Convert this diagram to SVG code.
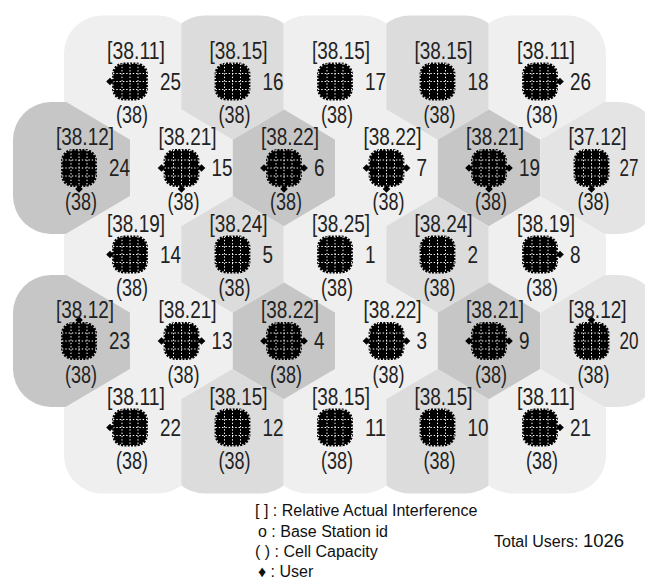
<svg xmlns="http://www.w3.org/2000/svg" width="645" height="580" viewBox="0 0 645 580">
<style>
.ri,.id,.cap{font-family:"Liberation Sans",Arial,sans-serif;font-size:23px;fill:#222}
.ri,.cap{text-anchor:middle}
.leg{font-family:"Liberation Sans",Arial,sans-serif;font-size:16px;fill:#111}
.dk{fill:#c6c6c6}.md{fill:#dcdcdc}.lt{fill:#efefef}.ml{fill:#e4e4e4}
</style>
<defs>
<rect id="cov" x="-66" y="-66" width="132" height="132" rx="38"/>
<clipPath id="kH"><polygon points="0,-58.5 51.25,-28.2 51.25,28.2 0,58.5 -51.25,28.2 -51.25,-28.2"/></clipPath>
<clipPath id="kT"><polygon points="-51.25,-100 51.25,-100 51.25,28.2 0,58.5 -51.25,28.2"/></clipPath>
<clipPath id="kTL"><polygon points="-100,-100 51.25,-100 51.25,28.2 0,58.5 -100,-0.6"/></clipPath>
<clipPath id="kTR"><polygon points="-51.25,-100 100,-100 100,-0.6 0,58.5 -51.25,28.2"/></clipPath>
<clipPath id="kB"><polygon points="-51.25,-28.2 0,-58.5 51.25,-28.2 51.25,100 -51.25,100"/></clipPath>
<clipPath id="kBL"><polygon points="-100,0.6 0,-58.5 51.25,-28.2 51.25,100 -100,100"/></clipPath>
<clipPath id="kBR"><polygon points="-51.25,-28.2 0,-58.5 100,0.6 100,100 -51.25,100"/></clipPath>
<clipPath id="kL3"><polygon points="-99,0 0,-58.5 51.25,-28.2 51.25,28.2 0,58.5"/></clipPath>
<clipPath id="kR3"><polygon points="99,0 0,58.5 -51.25,28.2 -51.25,-28.2 0,-58.5"/></clipPath>
<clipPath id="kL2"><polygon points="-100,-117.6 0,-58.5 51.25,-28.2 51.25,28.2 0,58.5 -100,117.6"/></clipPath>
<clipPath id="kR2"><polygon points="100,-117.6 100,117.6 0,58.5 -51.25,28.2 -51.25,-28.2 0,-58.5"/></clipPath>
<g id="blob">
<rect x="-16.5" y="-17.5" width="33" height="35" rx="10" fill="#000" stroke="#000" stroke-width="2.8" stroke-dasharray="2 1.3"/>
<path d="M-8,-18V18M0,-18V18M8,-18V18M-17,-8H17M-17,0H17M-17,8H17" fill="none" stroke="#fff" stroke-width="1" stroke-dasharray="1.4 1.9"/>
</g>
<polygon id="dia" points="0,-3.8 3.8,0 0,3.8 -3.8,0" fill="#000"/>
</defs>
<rect width="645" height="580" fill="#fff"/>
<g id="coverage">
<use href="#cov" class="lt" transform="translate(130,81.5)" clip-path="url(#kTL)"/>
<use href="#cov" class="md" transform="translate(232.5,81.5)" clip-path="url(#kT)"/>
<use href="#cov" class="lt" transform="translate(335,81.5)" clip-path="url(#kT)"/>
<use href="#cov" class="md" transform="translate(437.5,81.5)" clip-path="url(#kT)"/>
<use href="#cov" class="lt" transform="translate(540,81.5)" clip-path="url(#kTR)"/>
<use href="#cov" class="dk" transform="translate(79,168)" clip-path="url(#kL2)"/>
<use href="#cov" class="lt" transform="translate(181.5,168)" clip-path="url(#kH)"/>
<use href="#cov" class="dk" transform="translate(284,168)" clip-path="url(#kH)"/>
<use href="#cov" class="lt" transform="translate(386.5,168)" clip-path="url(#kH)"/>
<use href="#cov" class="dk" transform="translate(489,168)" clip-path="url(#kH)"/>
<use href="#cov" class="ml" transform="translate(591.5,168)" clip-path="url(#kR2)"/>
<use href="#cov" class="lt" transform="translate(130,254.5)" clip-path="url(#kL3)"/>
<use href="#cov" class="md" transform="translate(232.5,254.5)" clip-path="url(#kH)"/>
<use href="#cov" class="lt" transform="translate(335,254.5)" clip-path="url(#kH)"/>
<use href="#cov" class="md" transform="translate(437.5,254.5)" clip-path="url(#kH)"/>
<use href="#cov" class="lt" transform="translate(540,254.5)" clip-path="url(#kR3)"/>
<use href="#cov" class="dk" transform="translate(79,341)" clip-path="url(#kL2)"/>
<use href="#cov" class="lt" transform="translate(181.5,341)" clip-path="url(#kH)"/>
<use href="#cov" class="dk" transform="translate(284,341)" clip-path="url(#kH)"/>
<use href="#cov" class="lt" transform="translate(386.5,341)" clip-path="url(#kH)"/>
<use href="#cov" class="dk" transform="translate(489,341)" clip-path="url(#kH)"/>
<use href="#cov" class="ml" transform="translate(591.5,341)" clip-path="url(#kR2)"/>
<use href="#cov" class="lt" transform="translate(130,427.5)" clip-path="url(#kBL)"/>
<use href="#cov" class="md" transform="translate(232.5,427.5)" clip-path="url(#kB)"/>
<use href="#cov" class="lt" transform="translate(335,427.5)" clip-path="url(#kB)"/>
<use href="#cov" class="md" transform="translate(437.5,427.5)" clip-path="url(#kB)"/>
<use href="#cov" class="lt" transform="translate(540,427.5)" clip-path="url(#kBR)"/>
</g>

<g id="bs25" transform="translate(130,81.5)"><use href="#blob"/><use href="#dia" x="-20"/><text class="ri" x="6" y="-23" textLength="58" lengthAdjust="spacingAndGlyphs">[38.11]</text><text class="id" x="30" y="8" textLength="21" lengthAdjust="spacingAndGlyphs">25</text><text class="cap" x="2" y="41.5" textLength="32" lengthAdjust="spacingAndGlyphs">(38)</text></g>
<g id="bs16" transform="translate(232.5,81.5)"><use href="#blob"/><text class="ri" x="6" y="-23" textLength="58" lengthAdjust="spacingAndGlyphs">[38.15]</text><text class="id" x="30" y="8" textLength="21" lengthAdjust="spacingAndGlyphs">16</text><text class="cap" x="2" y="41.5" textLength="32" lengthAdjust="spacingAndGlyphs">(38)</text></g>
<g id="bs17" transform="translate(335,81.5)"><use href="#blob"/><text class="ri" x="6" y="-23" textLength="58" lengthAdjust="spacingAndGlyphs">[38.15]</text><text class="id" x="30" y="8" textLength="21" lengthAdjust="spacingAndGlyphs">17</text><text class="cap" x="2" y="41.5" textLength="32" lengthAdjust="spacingAndGlyphs">(38)</text></g>
<g id="bs18" transform="translate(437.5,81.5)"><use href="#blob"/><text class="ri" x="6" y="-23" textLength="58" lengthAdjust="spacingAndGlyphs">[38.15]</text><text class="id" x="30" y="8" textLength="21" lengthAdjust="spacingAndGlyphs">18</text><text class="cap" x="2" y="41.5" textLength="32" lengthAdjust="spacingAndGlyphs">(38)</text></g>
<g id="bs26" transform="translate(540,81.5)"><use href="#blob"/><use href="#dia" x="20"/><text class="ri" x="6" y="-23" textLength="58" lengthAdjust="spacingAndGlyphs">[38.11]</text><text class="id" x="30" y="8" textLength="21" lengthAdjust="spacingAndGlyphs">26</text><text class="cap" x="2" y="41.5" textLength="32" lengthAdjust="spacingAndGlyphs">(38)</text></g>

<g id="bs24" transform="translate(79,168)"><use href="#blob"/><use href="#dia" y="21"/><text class="ri" x="6" y="-23" textLength="58" lengthAdjust="spacingAndGlyphs">[38.12]</text><text class="id" x="30" y="8" textLength="21" lengthAdjust="spacingAndGlyphs">24</text><text class="cap" x="2" y="41.5" textLength="32" lengthAdjust="spacingAndGlyphs">(38)</text></g>
<g id="bs15" transform="translate(181.5,168)"><use href="#blob"/><use href="#dia" x="-20"/><use href="#dia" x="20"/><use href="#dia" y="21"/><text class="ri" x="6" y="-23" textLength="58" lengthAdjust="spacingAndGlyphs">[38.21]</text><text class="id" x="30" y="8" textLength="21" lengthAdjust="spacingAndGlyphs">15</text><text class="cap" x="2" y="41.5" textLength="32" lengthAdjust="spacingAndGlyphs">(38)</text></g>
<g id="bs6" transform="translate(284,168)"><use href="#blob"/><use href="#dia" x="-20"/><use href="#dia" x="20"/><use href="#dia" y="21"/><text class="ri" x="6" y="-23" textLength="58" lengthAdjust="spacingAndGlyphs">[38.22]</text><text class="id" x="30" y="8" textLength="10.5" lengthAdjust="spacingAndGlyphs">6</text><text class="cap" x="2" y="41.5" textLength="32" lengthAdjust="spacingAndGlyphs">(38)</text></g>
<g id="bs7" transform="translate(386.5,168)"><use href="#blob"/><use href="#dia" x="-20"/><use href="#dia" x="20"/><use href="#dia" y="21"/><text class="ri" x="6" y="-23" textLength="58" lengthAdjust="spacingAndGlyphs">[38.22]</text><text class="id" x="30" y="8" textLength="10.5" lengthAdjust="spacingAndGlyphs">7</text><text class="cap" x="2" y="41.5" textLength="32" lengthAdjust="spacingAndGlyphs">(38)</text></g>
<g id="bs19" transform="translate(489,168)"><use href="#blob"/><use href="#dia" x="-20"/><use href="#dia" x="20"/><use href="#dia" y="21"/><text class="ri" x="6" y="-23" textLength="58" lengthAdjust="spacingAndGlyphs">[38.21]</text><text class="id" x="30" y="8" textLength="21" lengthAdjust="spacingAndGlyphs">19</text><text class="cap" x="2" y="41.5" textLength="32" lengthAdjust="spacingAndGlyphs">(38)</text></g>
<g id="bs27" transform="translate(591.5,168)"><use href="#blob"/><use href="#dia" y="21"/><text class="ri" x="6" y="-23" textLength="58" lengthAdjust="spacingAndGlyphs">[37.12]</text><text class="id" x="28" y="8" textLength="19" lengthAdjust="spacingAndGlyphs">27</text><text class="cap" x="2" y="41.5" textLength="32" lengthAdjust="spacingAndGlyphs">(38)</text></g>

<g id="bs14" transform="translate(130,254.5)"><use href="#blob"/><use href="#dia" x="-20"/><text class="ri" x="6" y="-23" textLength="58" lengthAdjust="spacingAndGlyphs">[38.19]</text><text class="id" x="30" y="8" textLength="21" lengthAdjust="spacingAndGlyphs">14</text><text class="cap" x="2" y="41.5" textLength="32" lengthAdjust="spacingAndGlyphs">(38)</text></g>
<g id="bs5" transform="translate(232.5,254.5)"><use href="#blob"/><text class="ri" x="6" y="-23" textLength="58" lengthAdjust="spacingAndGlyphs">[38.24]</text><text class="id" x="30" y="8" textLength="10.5" lengthAdjust="spacingAndGlyphs">5</text><text class="cap" x="2" y="41.5" textLength="32" lengthAdjust="spacingAndGlyphs">(38)</text></g>
<g id="bs1" transform="translate(335,254.5)"><use href="#blob"/><text class="ri" x="6" y="-23" textLength="58" lengthAdjust="spacingAndGlyphs">[38.25]</text><text class="id" x="30" y="8" textLength="10.5" lengthAdjust="spacingAndGlyphs">1</text><text class="cap" x="2" y="41.5" textLength="32" lengthAdjust="spacingAndGlyphs">(38)</text></g>
<g id="bs2" transform="translate(437.5,254.5)"><use href="#blob"/><text class="ri" x="6" y="-23" textLength="58" lengthAdjust="spacingAndGlyphs">[38.24]</text><text class="id" x="30" y="8" textLength="10.5" lengthAdjust="spacingAndGlyphs">2</text><text class="cap" x="2" y="41.5" textLength="32" lengthAdjust="spacingAndGlyphs">(38)</text></g>
<g id="bs8" transform="translate(540,254.5)"><use href="#blob"/><use href="#dia" x="20"/><text class="ri" x="6" y="-23" textLength="58" lengthAdjust="spacingAndGlyphs">[38.19]</text><text class="id" x="30" y="8" textLength="10.5" lengthAdjust="spacingAndGlyphs">8</text><text class="cap" x="2" y="41.5" textLength="32" lengthAdjust="spacingAndGlyphs">(38)</text></g>

<g id="bs23" transform="translate(79,341)"><use href="#blob"/><use href="#dia" y="-21"/><text class="ri" x="6" y="-23" textLength="58" lengthAdjust="spacingAndGlyphs">[38.12]</text><text class="id" x="30" y="8" textLength="21" lengthAdjust="spacingAndGlyphs">23</text><text class="cap" x="2" y="41.5" textLength="32" lengthAdjust="spacingAndGlyphs">(38)</text></g>
<g id="bs13" transform="translate(181.5,341)"><use href="#blob"/><use href="#dia" x="-20"/><use href="#dia" x="20"/><text class="ri" x="6" y="-23" textLength="58" lengthAdjust="spacingAndGlyphs">[38.21]</text><text class="id" x="30" y="8" textLength="21" lengthAdjust="spacingAndGlyphs">13</text><text class="cap" x="2" y="41.5" textLength="32" lengthAdjust="spacingAndGlyphs">(38)</text></g>
<g id="bs4" transform="translate(284,341)"><use href="#blob"/><use href="#dia" x="-20"/><use href="#dia" x="20"/><text class="ri" x="6" y="-23" textLength="58" lengthAdjust="spacingAndGlyphs">[38.22]</text><text class="id" x="30" y="8" textLength="10.5" lengthAdjust="spacingAndGlyphs">4</text><text class="cap" x="2" y="41.5" textLength="32" lengthAdjust="spacingAndGlyphs">(38)</text></g>
<g id="bs3" transform="translate(386.5,341)"><use href="#blob"/><use href="#dia" x="-20"/><use href="#dia" x="20"/><text class="ri" x="6" y="-23" textLength="58" lengthAdjust="spacingAndGlyphs">[38.22]</text><text class="id" x="30" y="8" textLength="10.5" lengthAdjust="spacingAndGlyphs">3</text><text class="cap" x="2" y="41.5" textLength="32" lengthAdjust="spacingAndGlyphs">(38)</text></g>
<g id="bs9" transform="translate(489,341)"><use href="#blob"/><use href="#dia" x="-20"/><use href="#dia" x="20"/><text class="ri" x="6" y="-23" textLength="58" lengthAdjust="spacingAndGlyphs">[38.21]</text><text class="id" x="30" y="8" textLength="10.5" lengthAdjust="spacingAndGlyphs">9</text><text class="cap" x="2" y="41.5" textLength="32" lengthAdjust="spacingAndGlyphs">(38)</text></g>
<g id="bs20" transform="translate(591.5,341)"><use href="#blob"/><use href="#dia" y="-21"/><text class="ri" x="6" y="-23" textLength="58" lengthAdjust="spacingAndGlyphs">[38.12]</text><text class="id" x="28" y="8" textLength="19" lengthAdjust="spacingAndGlyphs">20</text><text class="cap" x="2" y="41.5" textLength="32" lengthAdjust="spacingAndGlyphs">(38)</text></g>

<g id="bs22" transform="translate(130,427.5)"><use href="#blob"/><use href="#dia" x="-20"/><text class="ri" x="6" y="-23" textLength="58" lengthAdjust="spacingAndGlyphs">[38.11]</text><text class="id" x="30" y="8" textLength="21" lengthAdjust="spacingAndGlyphs">22</text><text class="cap" x="2" y="41.5" textLength="32" lengthAdjust="spacingAndGlyphs">(38)</text></g>
<g id="bs12" transform="translate(232.5,427.5)"><use href="#blob"/><text class="ri" x="6" y="-23" textLength="58" lengthAdjust="spacingAndGlyphs">[38.15]</text><text class="id" x="30" y="8" textLength="21" lengthAdjust="spacingAndGlyphs">12</text><text class="cap" x="2" y="41.5" textLength="32" lengthAdjust="spacingAndGlyphs">(38)</text></g>
<g id="bs11" transform="translate(335,427.5)"><use href="#blob"/><text class="ri" x="6" y="-23" textLength="58" lengthAdjust="spacingAndGlyphs">[38.15]</text><text class="id" x="30" y="8" textLength="21" lengthAdjust="spacingAndGlyphs">11</text><text class="cap" x="2" y="41.5" textLength="32" lengthAdjust="spacingAndGlyphs">(38)</text></g>
<g id="bs10" transform="translate(437.5,427.5)"><use href="#blob"/><text class="ri" x="6" y="-23" textLength="58" lengthAdjust="spacingAndGlyphs">[38.15]</text><text class="id" x="30" y="8" textLength="21" lengthAdjust="spacingAndGlyphs">10</text><text class="cap" x="2" y="41.5" textLength="32" lengthAdjust="spacingAndGlyphs">(38)</text></g>
<g id="bs21" transform="translate(540,427.5)"><use href="#blob"/><use href="#dia" x="20"/><text class="ri" x="6" y="-23" textLength="58" lengthAdjust="spacingAndGlyphs">[38.11]</text><text class="id" x="30" y="8" textLength="21" lengthAdjust="spacingAndGlyphs">21</text><text class="cap" x="2" y="41.5" textLength="32" lengthAdjust="spacingAndGlyphs">(38)</text></g>

<g id="legend">
<text class="leg" x="255" y="516">[ ] : Relative Actual Interference</text>
<text class="leg" x="258" y="537">o : Base Station id</text>
<text class="leg" x="255" y="557">( ) : Cell Capacity</text>
<text class="leg" x="258" y="577">♦ : User</text>
<text class="leg" x="494" y="547">Total Users: <tspan font-size="18.5">1026</tspan></text>
</g>
</svg>
